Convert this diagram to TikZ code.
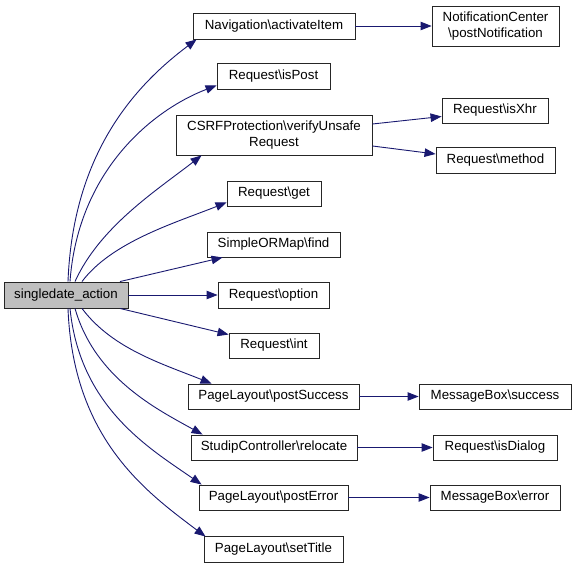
\documentclass[tikz,border=0pt]{standalone}
\usepackage{fontspec}
\setmainfont{Liberation Sans}
\usepackage{xcolor}
\usetikzlibrary{arrows.meta}
\definecolor{edgeblue}{HTML}{191970}
\newcommand{\bsl}{\textbackslash}

\begin{document}
\begin{tikzpicture}[x=1pt, y=-1pt,
    fn/.style={draw=black!85, line width=0.9pt, fill=white, inner sep=0pt, minimum height=26, align=center, font=\fontsize{13.3}{15.5}\selectfont},
    call/.style={draw=edgeblue, line width=0.9pt, -{Triangle[length=11pt,width=8.5pt]}}]
    \useasboundingbox (0,0) rectangle (576,567);

    % Caller
    \node[fn, fill=black!25, minimum width=124] (main) at (66,295) {singledate\_action};

    % Direct calls
    \node[fn, minimum width=162] (nav) at (274,26) {Navigation\bsl activateItem};
    \node[fn, minimum width=113] (ispost) at (273.5,76) {Request\bsl isPost};
    \node[fn, minimum width=196, minimum height=40] (csrf) at (274,135) {CSRFProtection\bsl verifyUnsafe\\Request};
    \node[fn, minimum width=94, minimum height=25] (get) at (274,193.5) {Request\bsl get};
    \node[fn, minimum width=133, minimum height=25] (find) at (273.5,244.5) {SimpleORMap\bsl find};
    \node[fn, minimum width=111] (option) at (273.5,295) {Request\bsl option};
    \node[fn, minimum width=90, minimum height=25] (int) at (274,345.5) {Request\bsl int};
    \node[fn, minimum width=171, minimum height=25] (postsuccess) at (273.5,396.5) {PageLayout\bsl postSuccess};
    \node[fn, minimum width=166, minimum height=25] (relocate) at (274,447.5) {StudipController\bsl relocate};
    \node[fn, minimum width=149, minimum height=25] (posterror) at (273.5,497.5) {PageLayout\bsl postError};
    \node[fn, minimum width=139] (settitle) at (273.5,549) {PageLayout\bsl setTitle};

    % Second level
    \node[fn, minimum width=127, minimum height=40] (notif) at (495.5,26) {NotificationCenter\\\bsl postNotification};
    \node[fn, minimum width=106, minimum height=25] (isxhr) at (495,110.5) {Request\bsl isXhr};
    \node[fn, minimum width=119] (method) at (495.5,160) {Request\bsl method};
    \node[fn, minimum width=152, minimum height=25] (msgsuccess) at (495,396.5) {MessageBox\bsl success};
    \node[fn, minimum width=124, minimum height=25] (isdialog) at (495,447.5) {Request\bsl isDialog};
    \node[fn, minimum width=130, minimum height=25] (msgerror) at (495,497.5) {MessageBox\bsl error};

    % Edges from the caller
    \draw[call] ([xshift=2pt]main.north) .. controls +(5,-130) and +(-60,45) .. ([xshift=4pt]nav.south west);
    \draw[call] ([xshift=4pt]main.north) .. controls +(8,-110) and +(-65,25) .. ([yshift=4pt]ispost.south west);
    \draw[call] ([xshift=9pt]main.north) .. controls +(25,-55) and +(-45,35) .. ([xshift=26pt]csrf.south west);
    \draw[call] ([xshift=16pt]main.north) .. controls +(30,-40) and +(-50,20) .. ([yshift=4pt]get.south west);
    \draw[call] ([xshift=54pt]main.north) -- ([xshift=16pt]find.south west);
    \draw[call] (main.east) -- (option.west);
    \draw[call] ([xshift=54pt]main.south) -- ([yshift=-2pt]int.north west);
    \draw[call] ([xshift=16pt]main.south) .. controls +(30,40) and +(-50,-20) .. ([xshift=24pt]postsuccess.north west);
    \draw[call] ([xshift=9pt]main.south) .. controls +(20,70) and +(-45,-25) .. ([xshift=12pt]relocate.north west);
    \draw[call] ([xshift=4pt]main.south) .. controls +(10,100) and +(-50,-35) .. ([xshift=3pt]posterror.north west);
    \draw[call] ([xshift=2pt]main.south) .. controls +(5,130) and +(-60,-45) .. ([xshift=2pt,yshift=-1pt]settitle.north west);

    % Edges to the second level
    \draw[call] (nav.east) -- (notif.west);
    \draw[call] ([yshift=11pt]csrf.east) -- ([yshift=-6pt]isxhr.west);
    \draw[call] ([yshift=-11pt]csrf.east) -- ([yshift=6pt]method.west);
    \draw[call] (postsuccess.east) -- (msgsuccess.west);
    \draw[call] (relocate.east) -- (isdialog.west);
    \draw[call] (posterror.east) -- (msgerror.west);
\end{tikzpicture}
\end{document}
